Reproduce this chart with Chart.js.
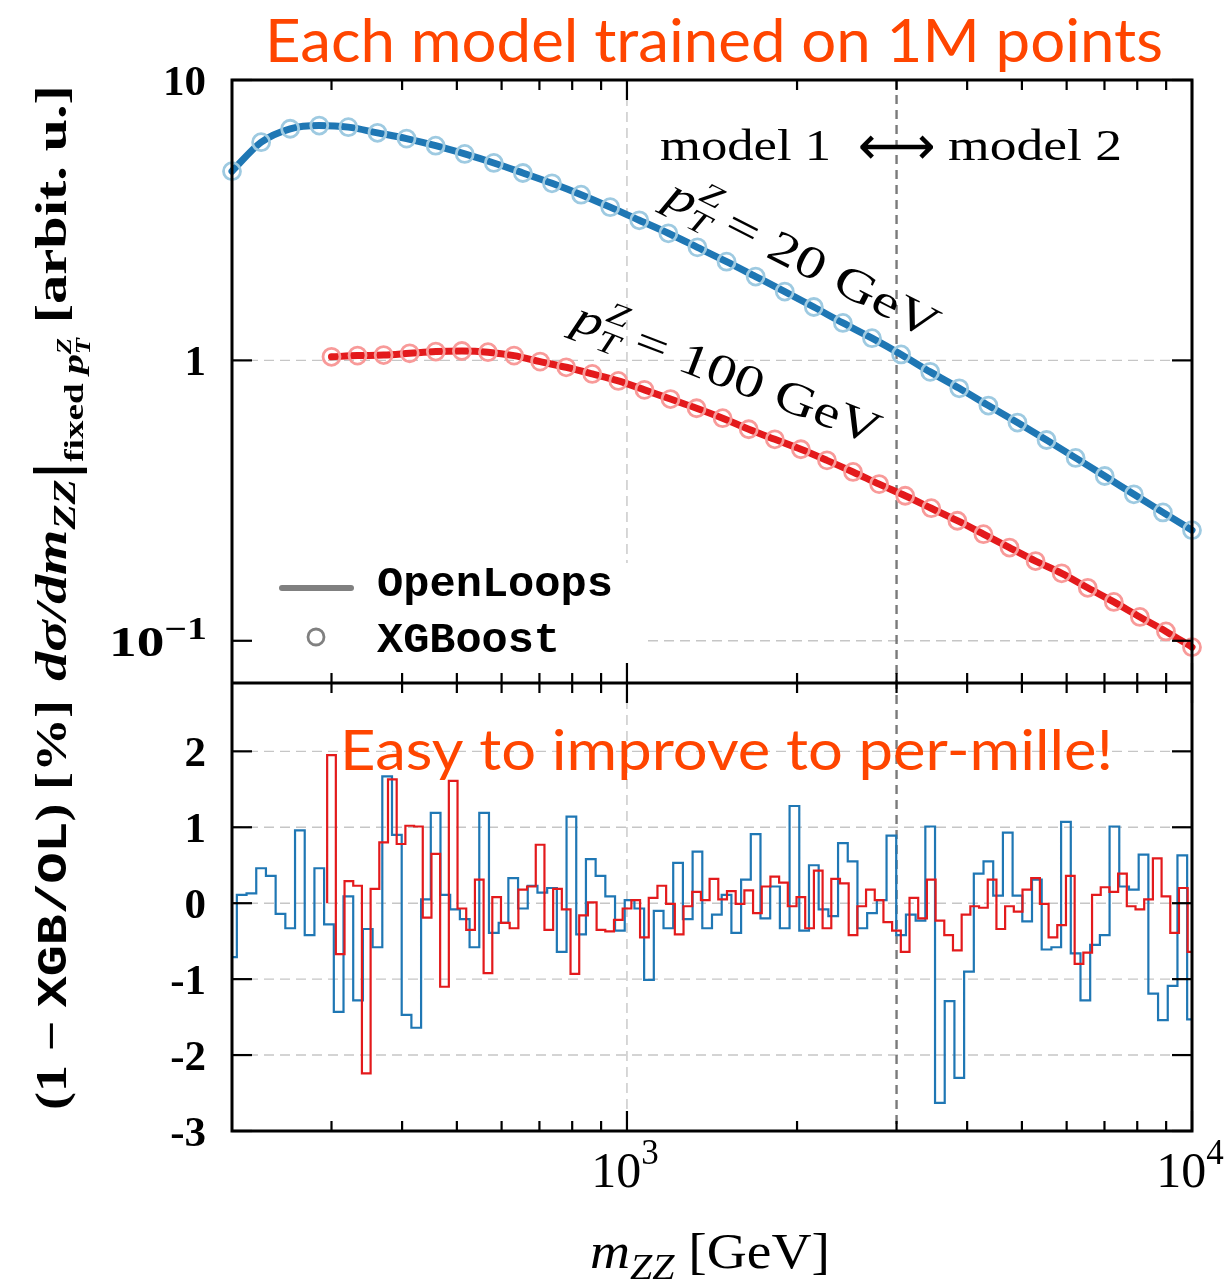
<!DOCTYPE html>
<html>
<head>
<meta charset="utf-8">
<script src="https://cdn.jsdelivr.net/npm/chart.js@4.4.1/dist/chart.umd.min.js"></script>
<style>
  html, body { margin: 0; padding: 0; background: #fff; }
  #wrap { position: relative; width: 1231px; height: 1284px; }
</style>
</head>
<body>
<div id="wrap"><canvas id="chart" width="1231" height="1284"></canvas></div>
<script>
// ---- top panel: dsigma/dm_ZZ at fixed pT (OpenLoops line, XGBoost circles)
const massPt20 = [200, 225.2, 253.5, 285.4, 321.3, 361.8, 407.3, 458.6, 516.3, 581.3, 654.4, 736.8,
  829.5, 934.0, 1051.5, 1183.8, 1332.8, 1500.6, 1689.5, 1902.1, 2141.5, 2411.0, 2714.5, 3056.1,
  3440.8, 3873.8, 4361.4, 4910.3, 5528.3, 6224.1, 7007.4, 7889.3, 8882.3, 10000]
const xsecPt20 = [4.73, 6.00, 6.70, 6.88, 6.79, 6.48, 6.18, 5.83, 5.45, 5.06, 4.66, 4.28,
  3.90, 3.52, 3.16, 2.84, 2.53, 2.25, 1.99, 1.76, 1.55, 1.36, 1.20, 1.05,
  0.91, 0.795, 0.69, 0.60, 0.52, 0.449, 0.387, 0.333, 0.287, 0.248]

const massPt100 = [300, 333.6, 371.0, 412.6, 458.9, 510.4, 567.6, 631.2, 702.0, 780.7, 868.2, 965.5,
  1073.8, 1194.2, 1328.1, 1477.0, 1642.6, 1826.8, 2031.6, 2259.4, 2512.7, 2794.4, 3107.7, 3456.1,
  3843.6, 4274.5, 4753.7, 5286.6, 5879.4, 6538.6, 7271.7, 8086.9, 8993.5, 10000]
const xsecPt100 = [1.03, 1.04, 1.045, 1.06, 1.075, 1.08, 1.07, 1.04, 0.99, 0.945, 0.895, 0.845,
  0.785, 0.728, 0.675, 0.622, 0.568, 0.523, 0.482, 0.440, 0.400, 0.362, 0.329, 0.297,
  0.268, 0.240, 0.215, 0.1925, 0.174, 0.1545, 0.1376, 0.1216, 0.108, 0.0949]

// ---- bottom panel: (1 - XGB/OL) in %, 100 bins per curve, log spaced centres
const ratioBinsPt20 = { first: 200, last: 10000, count: 100 }
const ratioBinsPt100 = { first: 300, last: 10000, count: 100 }
const ratioPt20 = [-0.71, 0.11, 0.13, 0.46, 0.36, -0.14, -0.33, 0.96, -0.42, 0.46,
  -0.28, -1.43, 0.09, -1.28, -0.34, -0.58, 1.67, 0.90, -1.47, -1.64,
  0.05, 1.19, 0.11, -0.08, -0.21, -0.58, 1.19, -0.39, -0.26, 0.33,
  -0.07, 0.23, 0.14, 0.20, -0.64, 1.14, -0.41, 0.58, 0.36, 0.09,
  -0.36, 0.04, -0.07, -1.01, -0.10, -0.33, 0.53, -0.21, 0.68, -0.33,
  -0.15, 0.11, -0.39, 0.31, 0.91, -0.20, 0.22, -0.33, 1.28, -0.36,
  0.50, -0.08, -0.17, 0.79, 0.55, -0.33, -0.13, 0.04, 0.89, -0.42,
  -0.15, -0.23, 1.01, -2.63, -1.29, -2.30, -0.90, 0.39, 0.55, 0.10,
  0.93, 0.10, -0.24, 0.31, -0.61, -0.58, 1.07, -0.66, -1.28, -0.55,
  -0.42, 1.01, 0.22, 0.18, 0.64, -1.19, -1.54, -1.09, 0.63, -1.53]
const ratioPt100 = [1.95, -0.67, 0.29, 0.23, -2.24, 0.19, 0.80, 1.63, 0.78, 1.02,
  1.01, -0.19, 0.65, -1.10, 1.61, -0.07, -0.35, 0.31, -0.92, 0.08,
  -0.26, -0.33, 0.18, 0.22, 0.77, -0.35, 0.19, -0.08, -0.93, -0.16,
  0.01, -0.35, -0.37, -0.22, -0.07, 0.04, -0.45, 0.07, 0.23, -0.01,
  -0.41, -0.04, 0.15, 0.04, 0.32, 0.05, 0.16, -0.01, 0.17, -0.13,
  0.22, 0.35, 0.27, -0.04, 0.08, -0.33, 0.43, -0.33, 0.32, 0.26,
  -0.42, -0.04, 0.18, 0.04, -0.25, -0.36, -0.64, 0.07, -0.20, 0.31,
  -0.23, -0.42, -0.62, -0.15, -0.04, -0.06, 0.31, -0.34, -0.04, -0.11,
  0.18, 0.33, -0.01, -0.45, -0.29, 0.36, -0.80, -0.65, 0.11, 0.21,
  0.15, 0.39, -0.04, -0.08, 0.05, 0.59, 0.09, -0.39, 0.20, -0.64]

// ---- axes
const xMajorTicks = [1000, 10000]
const xMajorLabels = ['3', '4']   // exponents of 10
const xMinorTicks = [300, 400, 500, 600, 700, 800, 900, 2000, 3000, 4000, 5000, 6000, 7000, 8000, 9000]
const xsecTicks = [10, 1, 0.1]
const xsecLabels = [['10', ''], ['1', ''], ['10', '\u22121']]
const ratioTicks = [2, 1, 0, -1, -2, -3]
const ratioLabels = ['2', '1', '0', '-1', '-2', '-3']
const modelSplit = 3000

const BLUE = '#1f77b4', BLUE_LIGHT = '#9ecae1'
const RED = '#e31a1c', RED_LIGHT = '#f89a99'
const ORANGE = '#ff4500'
const SERIF = '"Liberation Serif", "Times New Roman", serif'
const MONO = '"Liberation Mono", "DejaVu Sans Mono", monospace'

function logGrid(b) {
    const a = Math.log10(b.first), z = Math.log10(b.last)
    return Array.from({ length: b.count }, (_, i) => Math.pow(10, a + (z - a) * i / (b.count - 1)))
}

// histogram outline (matplotlib "step" style) built from bin centres and values
function stairs(centers, values) {
    const half = Math.sqrt(centers[1] / centers[0])
    const n = values.length
    const edge = k => k === 0 ? centers[0] / half : (k === n ? centers[n - 1] * half : Math.sqrt(centers[k - 1] * centers[k]))
    const pts = [{ x: edge(0), y: 0 }]
    values.forEach((v, k) => {
        pts.push({ x: edge(k), y: v })
        pts.push({ x: edge(k + 1), y: v })
    })
    pts.push({ x: edge(n), y: 0 })
    return pts
}

const pairs = (xs, ys) => xs.map((x, i) => ({ x: x, y: ys[i] }))

// draws a row of text runs (sub/superscripts), optionally stretched to a width
function drawRuns(ctx, runs, o) {
    ctx.save()
    let w = 0
    const placed = []
    runs.forEach(r => {
        ctx.font = r.f
        const rw = ctx.measureText(r.t).width
        if (r.stack) {
            const prev = placed[placed.length - 1]
            placed.push({ r: r, x: prev.x })
            w = Math.max(w, prev.x + rw)
        } else {
            placed.push({ r: r, x: w })
            w += rw
        }
    })
    const sx = o.width ? o.width / w : 1
    ctx.translate(o.x, o.y)
    if (o.angle) ctx.rotate(o.angle)
    ctx.scale(sx, 1)
    const x0 = o.align === 'center' ? -w / 2 : (o.align === 'right' ? -w : 0)
    ctx.fillStyle = o.color || '#000'
    ctx.textBaseline = 'alphabetic'
    ctx.textAlign = 'left'
    placed.forEach(p => {
        ctx.font = p.r.f
        ctx.fillText(p.r.t, x0 + p.x, p.r.dy || 0)
    })
    ctx.restore()
}

function line(ctx, x1, y1, x2, y2) {
    ctx.beginPath()
    ctx.moveTo(x1, y1)
    ctx.lineTo(x2, y2)
    ctx.stroke()
}

const overlay = {
    id: 'overlay',
    beforeDraw(chart) {
        const ctx = chart.ctx
        ctx.save()
        ctx.fillStyle = '#fff'
        ctx.fillRect(0, 0, chart.width, chart.height)
        ctx.restore()
    },
    beforeDatasetsDraw(chart) {
        const ctx = chart.ctx
        const { x, yXsec, yRatio } = chart.scales
        ctx.save()
        // light grid
        ctx.strokeStyle = '#c6c6c6'
        ctx.lineWidth = 1.4
        ctx.setLineDash([10, 6])
        ;[1, 0.1].forEach(v => line(ctx, x.left, yXsec.getPixelForValue(v), x.right, yXsec.getPixelForValue(v)))
        ;[2, 1, 0, -1, -2].forEach(v => line(ctx, x.left, yRatio.getPixelForValue(v), x.right, yRatio.getPixelForValue(v)))
        const x1000 = x.getPixelForValue(1000)
        line(ctx, x1000, yXsec.top, x1000, yXsec.bottom)
        line(ctx, x1000, yRatio.top, x1000, yRatio.bottom)
        // legend frame hides the grid behind it
        ctx.setLineDash([])
        ctx.fillStyle = '#fff'
        ctx.fillRect(x.left + 6, 563, 648 - x.left - 6, yXsec.bottom - 565)
        // model split
        ctx.strokeStyle = '#7a7a7a'
        ctx.lineWidth = 2.4
        ctx.setLineDash([9, 6])
        const xs = x.getPixelForValue(modelSplit)
        line(ctx, xs, yXsec.top, xs, yRatio.bottom)
        ctx.restore()
    },
    afterDatasetsDraw(chart) {
        const ctx = chart.ctx
        const { x, yXsec, yRatio } = chart.scales
        const L = x.left, R = x.right
        ctx.save()
        ctx.setLineDash([])
        ctx.strokeStyle = '#000'
        ctx.lineCap = 'butt'

        // ticks pointing inwards on every side of both panels
        ctx.lineWidth = 2.2
        ;[[yXsec.top, 1], [yXsec.bottom, -1], [yRatio.top, 1], [yRatio.bottom, -1]].forEach(([yy, d]) => {
            xMinorTicks.forEach(v => { const p = x.getPixelForValue(v); line(ctx, p, yy, p, yy + d * 10) })
            xMajorTicks.forEach(v => { const p = x.getPixelForValue(v); line(ctx, p, yy, p, yy + d * 20) })
        })
        xsecTicks.forEach(v => {
            const p = yXsec.getPixelForValue(v)
            line(ctx, L, p, L + 20, p)
            line(ctx, R, p, R - 20, p)
        })
        ratioTicks.forEach(v => {
            const p = yRatio.getPixelForValue(v)
            line(ctx, L, p, L + 20, p)
            line(ctx, R, p, R - 20, p)
        })

        // frame
        ctx.lineWidth = 3
        ctx.strokeRect(L, yXsec.top, R - L, yRatio.bottom - yXsec.top)
        line(ctx, L, yXsec.bottom, R, yXsec.bottom)

        // tick labels
        xsecTicks.forEach((v, i) => {
            const p = yXsec.getPixelForValue(v)
            const lab = xsecLabels[i]
            if (lab[1]) {
                drawRuns(ctx, [{ t: lab[0], f: 'bold 43px ' + SERIF }, { t: lab[1], f: 'bold 31px ' + SERIF, dy: -17 }],
                    { x: 207, y: p + 15, align: 'right', width: 98 })
            } else {
                drawRuns(ctx, [{ t: lab[0], f: 'bold 43px ' + SERIF }], { x: 206, y: p + 15, align: 'right' })
            }
        })
        ratioTicks.forEach((v, i) => {
            const p = yRatio.getPixelForValue(v)
            drawRuns(ctx, [{ t: ratioLabels[i], f: 'bold 43px ' + SERIF }], { x: 206, y: p + 15, align: 'right' })
        })
        xMajorTicks.forEach((v, i) => {
            const p = x.getPixelForValue(v)
            drawRuns(ctx, [{ t: '10', f: '50px ' + SERIF }, { t: xMajorLabels[i], f: '35px ' + SERIF, dy: -23 }],
                { x: p - 2, y: 1187, align: 'center' })
        })

        // axis titles
        drawRuns(ctx, [
            { t: 'm', f: 'italic 50px ' + SERIF },
            { t: 'ZZ', f: 'italic 36px ' + SERIF, dy: 11 },
            { t: ' [GeV]', f: '50px ' + SERIF }
        ], { x: 710, y: 1268, align: 'center', width: 240 })

        drawRuns(ctx, [
            { t: 'd\u03c3/dm', f: 'bold italic 44px ' + SERIF },
            { t: 'ZZ', f: 'bold italic 31px ' + SERIF, dy: 9 },
            { t: '|', f: 'bold 60px ' + SERIF, dy: 8 },
            { t: 'fixed ', f: 'bold 28px ' + SERIF, dy: 17 },
            { t: 'p', f: 'bold italic 30px ' + SERIF, dy: 17 },
            { t: 'Z', f: 'bold italic 20px ' + SERIF, dy: 5 },
            { t: 'T', f: 'bold italic 20px ' + SERIF, dy: 24, stack: true },
            { t: ' [arbit. u.]', f: 'bold 44px ' + SERIF }
        ], { x: 66, y: 383, align: 'center', angle: -Math.PI / 2, width: 596 })

        drawRuns(ctx, [
            { t: '(1 \u2212 ', f: 'bold 44px ' + SERIF },
            { t: 'XGB/OL', f: 'bold 42px ' + MONO },
            { t: ') [%]', f: 'bold 44px ' + SERIF }
        ], { x: 66, y: 905, align: 'center', angle: -Math.PI / 2, width: 410 })

        // legend
        ctx.strokeStyle = '#808080'
        ctx.lineWidth = 6
        ctx.lineCap = 'round'
        line(ctx, 282, 588, 351, 588)
        ctx.lineWidth = 2.8
        ctx.beginPath()
        ctx.arc(316, 637, 8, 0, Math.PI * 2)
        ctx.stroke()
        drawRuns(ctx, [{ t: 'OpenLoops', f: 'bold 43px ' + MONO }], { x: 377, y: 596, width: 236 })
        drawRuns(ctx, [{ t: 'XGBoost', f: 'bold 43px ' + MONO }], { x: 377, y: 652, width: 183 })

        // annotations
        drawRuns(ctx, [{ t: 'model 1', f: '44px ' + SERIF }], { x: 660, y: 160, width: 171 })
        drawRuns(ctx, [{ t: '\u27f7', f: '54px "DejaVu Sans"' }], { x: x.getPixelForValue(modelSplit), y: 164, align: 'center', width: 78 })
        drawRuns(ctx, [{ t: 'model 2', f: '44px ' + SERIF }], { x: 948, y: 160, width: 174 })

        drawRuns(ctx, [
            { t: 'p', f: 'italic 46px ' + SERIF },
            { t: 'Z', f: 'italic 31px ' + SERIF, dy: -20 },
            { t: 'T', f: 'italic 31px ' + SERIF, dy: 10, stack: true },
            { t: ' = 20 GeV', f: '46px ' + SERIF }
        ], { x: 796, y: 272, align: 'center', angle: 27 * Math.PI / 180, width: 300 })
        drawRuns(ctx, [
            { t: 'p', f: 'italic 46px ' + SERIF },
            { t: 'Z', f: 'italic 31px ' + SERIF, dy: -20 },
            { t: 'T', f: 'italic 31px ' + SERIF, dy: 10, stack: true },
            { t: ' = 100 GeV', f: '46px ' + SERIF }
        ], { x: 722, y: 387, align: 'center', angle: 21 * Math.PI / 180, width: 325 })

        drawRuns(ctx, [{ t: 'Each model trained on 1M points', f: '60px Lato' }],
            { x: 265, y: 62, width: 898, color: ORANGE })
        drawRuns(ctx, [{ t: 'Easy to improve to per-mille!', f: '56px Lato' }],
            { x: 340, y: 770, width: 773, color: ORANGE })
        ctx.restore()
    }
}

const binsPt20 = logGrid(ratioBinsPt20)
const binsPt100 = logGrid(ratioBinsPt100)

new Chart(document.getElementById('chart'), {
    type: 'line',
    data: {
        datasets: [
            { label: 'OpenLoops pT=20', data: pairs(massPt20, xsecPt20), yAxisID: 'yXsec', borderColor: BLUE, borderWidth: 7,
              pointRadius: 0, cubicInterpolationMode: 'monotone', borderCapStyle: 'round', order: 5, clip: false },
            { label: 'OpenLoops pT=100', data: pairs(massPt100, xsecPt100), yAxisID: 'yXsec', borderColor: RED, borderWidth: 7,
              pointRadius: 0, cubicInterpolationMode: 'monotone', borderCapStyle: 'round', order: 5, clip: false },
            { label: 'XGBoost pT=20', data: pairs(massPt20, xsecPt20), yAxisID: 'yXsec', showLine: false,
              pointRadius: 8.5, pointBorderWidth: 2.8, pointBorderColor: BLUE_LIGHT, pointBackgroundColor: 'rgba(0,0,0,0)', order: 1, clip: false },
            { label: 'XGBoost pT=100', data: pairs(massPt100, xsecPt100), yAxisID: 'yXsec', showLine: false,
              pointRadius: 8.5, pointBorderWidth: 2.8, pointBorderColor: RED_LIGHT, pointBackgroundColor: 'rgba(0,0,0,0)', order: 1, clip: false },
            { label: 'ratio pT=20', data: stairs(binsPt20, ratioPt20), yAxisID: 'yRatio', borderColor: BLUE, borderWidth: 2.2,
              pointRadius: 0, order: 4 },
            { label: 'ratio pT=100', data: stairs(binsPt100, ratioPt100), yAxisID: 'yRatio', borderColor: RED, borderWidth: 2.2,
              pointRadius: 0, order: 3 }
        ]
    },
    options: {
        responsive: false,
        animation: false,
        events: [],
        layout: { padding: { left: 232, right: 39, top: 80, bottom: 153 } },
        plugins: { legend: { display: false }, tooltip: { enabled: false } },
        scales: {
            x: {
                type: 'logarithmic', min: 200, max: 10000, position: 'bottom',
                grid: { display: false }, ticks: { display: false }, border: { display: false },
                afterFit: s => { s.height = 0 }
            },
            yRatio: {
                type: 'linear', position: 'left', stack: 'panels', stackWeight: 448, weight: 0,
                min: -3, max: 2.9,
                grid: { display: false }, ticks: { display: false }, border: { display: false },
                afterFit: s => { s.width = 0 }
            },
            yXsec: {
                type: 'logarithmic', position: 'left', stack: 'panels', stackWeight: 603, weight: 1,
                min: 0.0707, max: 10,
                grid: { display: false }, ticks: { display: false }, border: { display: false },
                afterFit: s => { s.width = 0 }
            }
        }
    },
    plugins: [overlay]
})
</script>
</body>
</html>
